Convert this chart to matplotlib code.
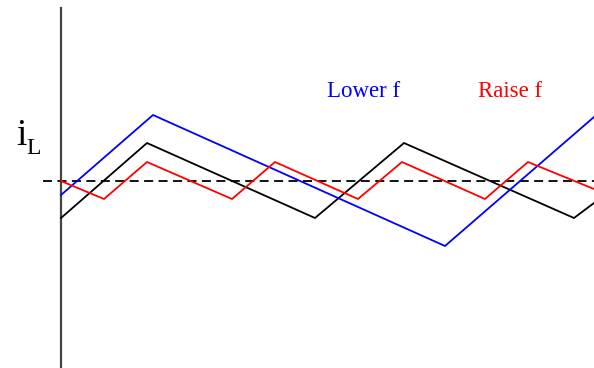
import matplotlib.pyplot as plt

# inductor current, time measured from the vertical axis, current relative to the average (dashed line)
t_nominal = [0, 86, 254, 343, 513, 533]
i_nominal = [-37, 38, -37, 38, -37, -22]

t_lower = [0, 92, 384, 533]
i_lower = [-14, 66, -65, 64]

t_raise = [0, 43, 86, 171, 214, 297, 341, 424, 467, 533]
i_raise = [0, -18, 19, -18, 19, -18, 19, -18, 19, -8]

fig = plt.figure(figsize=(5.94, 3.68), dpi=100)
ax = fig.add_axes([0, 0, 1, 1])
ax.set_xlim(-61, 533)
ax.set_ylim(-187, 181)
ax.axis('off')

ax.plot([0, 0], [-187, 173], color='#444444', linewidth=1.6)
ax.plot([-18, 533], [0, 0], color='black', linewidth=1.3, linestyle=(0, (5, 3)))

ax.plot(t_nominal, i_nominal, color='black', linewidth=1.3)
ax.plot(t_lower, i_lower, color='blue', linewidth=1.3)
ax.plot(t_raise, i_raise, color='red', linewidth=1.3)

serif = 'Liberation Serif'
ax.text(-45, 36, 'i', fontsize=27, family=serif, ha='left', va='baseline')
ax.text(-35, 27, 'L', fontsize=17, family=serif, ha='left', va='baseline')
ax.text(266, 84, 'Lower f', fontsize=16.5, family=serif, color='blue', ha='left', va='baseline')
ax.text(417, 84, 'Raise f', fontsize=16.5, family=serif, color='red', ha='left', va='baseline')

fig.savefig('out.png', dpi=100)
